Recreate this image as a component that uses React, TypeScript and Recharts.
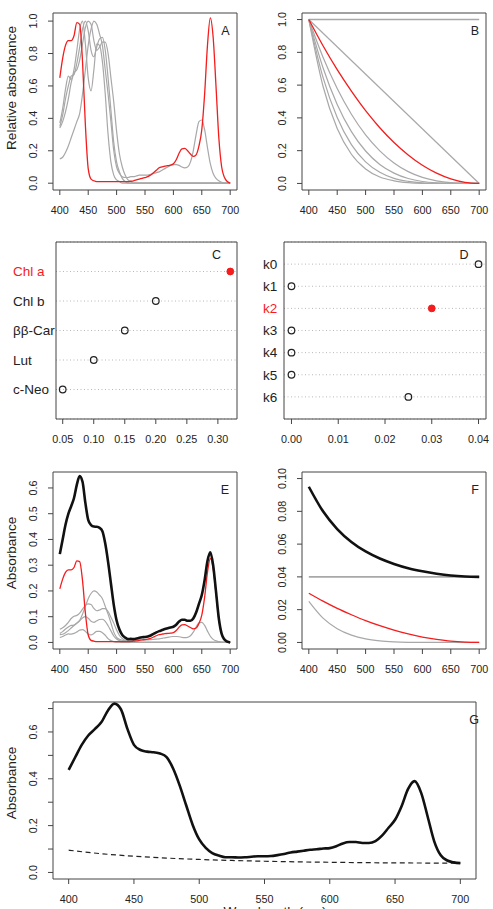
import React from 'react';
import {
  ComposedChart,
  Line,
  Scatter,
  XAxis,
  YAxis,
  ReferenceArea,
  CartesianGrid,
} from 'recharts';

const FONT = '"Liberation Sans", Arial, Helvetica, sans-serif';
const GREY = '#a8a8a8';
const RED = '#f41c1c';
const BLACK = '#111';
const INK = '#222';
const FRAME = '#444';

// wavelength grids (nm)
const wl5 = [
  400, 405, 410, 415, 420, 425, 430, 435, 440, 445, 450, 455, 460, 465, 470, 475, 480, 485, 490, 495,
  500, 505, 510, 515, 520, 525, 530, 535, 540, 545, 550, 555, 560, 565, 570, 575, 580, 585, 590, 595,
  600, 605, 610, 615, 620, 625, 630, 635, 640, 645, 650, 655, 660, 665, 670, 675, 680, 685, 690, 695, 700,
];
const wlCar = [
  400, 405, 410, 415, 420, 425, 430, 435, 440, 445, 450, 455, 460, 465, 470, 475, 480, 485, 490, 495,
  500, 505, 510, 515, 520, 525, 530, 700,
];
const wlPow = [400, 425, 450, 475, 500, 525, 550, 575, 600, 625, 650, 675, 700];
const wlEnds = [400, 700];
const wlTicks = [400, 450, 500, 550, 600, 650, 700];

// A: pigment spectra, relative units
const chlaRel = [
  0.65, 0.77, 0.85, 0.88, 0.88, 0.91, 0.99, 0.98, 0.75, 0.36,
  0.09, 0.025, 0.015, 0.01, 0.01, 0.01, 0.01, 0.01, 0.01, 0.01,
  0.01, 0.01, 0.01, 0.01, 0.01, 0.012, 0.015, 0.02, 0.025, 0.03,
  0.035, 0.04, 0.05, 0.065, 0.08, 0.095, 0.1, 0.105, 0.108, 0.112,
  0.12, 0.145, 0.185, 0.212, 0.215, 0.2, 0.18, 0.165, 0.175, 0.23,
  0.33, 0.55, 0.85, 1.02, 0.9, 0.6, 0.28, 0.1, 0.035, 0.01, 0,
];
const chlbRel = [
  0.15, 0.16, 0.19, 0.23, 0.28, 0.33, 0.38, 0.43, 0.55, 0.7,
  0.85, 0.95, 1.0, 0.98, 0.92, 0.85, 0.7, 0.55, 0.38, 0.2,
  0.1, 0.06, 0.04, 0.035, 0.035, 0.04, 0.04, 0.045, 0.05, 0.05,
  0.05, 0.05, 0.055, 0.06, 0.065, 0.07, 0.08, 0.09, 0.1, 0.11,
  0.115, 0.115, 0.11, 0.1, 0.095, 0.1, 0.13, 0.2, 0.3, 0.38,
  0.39, 0.33, 0.22, 0.12, 0.06, 0.03, 0.015, 0.005, 0, 0, 0,
];
const bcarRel = [
  0.34, 0.38, 0.44, 0.52, 0.62, 0.68, 0.7, 0.76, 0.86, 0.96,
  1.0, 0.98, 0.88, 0.82, 0.84, 0.87, 0.87, 0.8, 0.65, 0.5,
  0.32, 0.18, 0.1, 0.05, 0.02, 0.01, 0, 0,
];
const lutRel = [
  0.35, 0.42, 0.52, 0.6, 0.66, 0.67, 0.74, 0.84, 0.95, 1.0,
  0.94, 0.82, 0.78, 0.84, 0.89, 0.9, 0.82, 0.65, 0.45, 0.25,
  0.13, 0.07, 0.03, 0.01, 0, 0, 0, 0,
];
const neoRel = [
  0.37, 0.46, 0.58, 0.66, 0.64, 0.7, 0.82, 0.95, 1.0, 0.86,
  0.65, 0.57, 0.7, 0.86, 0.85, 0.75, 0.55, 0.3, 0.13, 0.05,
  0.02, 0.01, 0, 0, 0, 0, 0, 0,
];

// B: baseline shape terms k0..k6
const shapeK0 = [1, 1];
const shapeK1 = [1, 0];
const shapeK2 = [1, 0.84, 0.694, 0.563, 0.444, 0.34, 0.25, 0.174, 0.111, 0.063, 0.028, 0.007, 0];
const shapeK3 = [1, 0.77, 0.579, 0.422, 0.296, 0.199, 0.125, 0.072, 0.037, 0.016, 0.005, 0.001, 0];
const shapeK4 = [1, 0.706, 0.482, 0.316, 0.198, 0.116, 0.063, 0.03, 0.012, 0.004, 0.001, 0, 0];
const shapeK5 = [1, 0.647, 0.402, 0.237, 0.132, 0.068, 0.031, 0.013, 0.004, 0.001, 0, 0, 0];
const shapeK6 = [1, 0.593, 0.335, 0.178, 0.088, 0.039, 0.016, 0.005, 0.001, 0, 0, 0, 0];

// C: pigment concentrations
const pigments = ['Chl a', 'Chl b', 'ββ-Car', 'Lut', 'c-Neo'];
const pigmentConc = [0.32, 0.2, 0.15, 0.1, 0.05];
const concTicks = [0.05, 0.1, 0.15, 0.2, 0.25, 0.3];

// D: baseline coefficients
const coefNames = ['k0', 'k1', 'k2', 'k3', 'k4', 'k5', 'k6'];
const coefValues = [0.04, 0, 0.03, 0, 0, 0, 0.025];
const coefTicks = [0, 0.01, 0.02, 0.03, 0.04];

// E: weighted pigment absorbance and their sum
const chlaAbs = [
  0.208, 0.246, 0.272, 0.282, 0.282, 0.291, 0.317, 0.314, 0.24, 0.115,
  0.029, 0.008, 0.005, 0.003, 0.003, 0.003, 0.003, 0.003, 0.003, 0.003,
  0.003, 0.003, 0.003, 0.003, 0.003, 0.004, 0.005, 0.006, 0.008, 0.01,
  0.011, 0.013, 0.016, 0.021, 0.026, 0.03, 0.032, 0.034, 0.035, 0.036,
  0.038, 0.046, 0.059, 0.068, 0.069, 0.064, 0.058, 0.053, 0.056, 0.074,
  0.106, 0.176, 0.272, 0.326, 0.288, 0.192, 0.09, 0.032, 0.011, 0.003, 0,
];
const chlbAbs = [
  0.03, 0.032, 0.038, 0.046, 0.056, 0.066, 0.076, 0.086, 0.11, 0.14,
  0.17, 0.19, 0.2, 0.196, 0.184, 0.17, 0.14, 0.11, 0.076, 0.04,
  0.02, 0.012, 0.008, 0.007, 0.007, 0.008, 0.008, 0.009, 0.01, 0.01,
  0.01, 0.01, 0.011, 0.012, 0.013, 0.014, 0.016, 0.018, 0.02, 0.022,
  0.023, 0.023, 0.022, 0.02, 0.019, 0.02, 0.026, 0.04, 0.06, 0.076,
  0.078, 0.066, 0.044, 0.024, 0.012, 0.006, 0.003, 0.001, 0, 0, 0,
];
const bcarAbs = [
  0.051, 0.057, 0.066, 0.078, 0.093, 0.102, 0.105, 0.114, 0.129, 0.144,
  0.15, 0.147, 0.132, 0.123, 0.126, 0.131, 0.131, 0.12, 0.098, 0.075,
  0.048, 0.027, 0.015, 0.008, 0.003, 0.002, 0, 0,
];
const lutAbs = [
  0.035, 0.042, 0.052, 0.06, 0.066, 0.067, 0.074, 0.084, 0.095, 0.1,
  0.094, 0.082, 0.078, 0.084, 0.089, 0.09, 0.082, 0.065, 0.045, 0.025,
  0.013, 0.007, 0.003, 0.001, 0, 0, 0, 0,
];
const neoAbs = [
  0.019, 0.023, 0.029, 0.033, 0.032, 0.035, 0.041, 0.048, 0.05, 0.043,
  0.033, 0.029, 0.035, 0.043, 0.043, 0.038, 0.028, 0.015, 0.007, 0.003,
  0.001, 0.001, 0, 0, 0, 0, 0, 0,
];
const pigmentSum = [
  0.343, 0.4, 0.457, 0.499, 0.529, 0.561, 0.613, 0.646, 0.624, 0.542,
  0.476, 0.456, 0.45, 0.449, 0.445, 0.432, 0.384, 0.313, 0.229, 0.146,
  0.085, 0.05, 0.029, 0.019, 0.013, 0.014, 0.013, 0.015, 0.018, 0.02,
  0.021, 0.023, 0.027, 0.033, 0.039, 0.044, 0.048, 0.052, 0.055, 0.058,
  0.061, 0.069, 0.081, 0.088, 0.088, 0.084, 0.084, 0.093, 0.116, 0.15,
  0.184, 0.242, 0.316, 0.35, 0.3, 0.198, 0.093, 0.033, 0.011, 0.003, 0,
];

// F: baseline terms and total baseline
const baseK0 = [0.04, 0.04];
const baseK2 = [0.03, 0.0252, 0.0208, 0.0169, 0.0133, 0.0102, 0.0075, 0.0052, 0.0033, 0.0019, 0.0008, 0.0002, 0];
const baseK6 = [0.025, 0.0148, 0.0084, 0.0045, 0.0022, 0.001, 0.0004, 0.0001, 0, 0, 0, 0, 0];
const baseTotal = [0.095, 0.08, 0.0692, 0.0613, 0.0555, 0.0512, 0.0479, 0.0453, 0.0434, 0.0419, 0.0408, 0.0402, 0.04];

// G: modelled sample absorbance
const sampleAbs = [
  0.438, 0.492, 0.545, 0.585, 0.612, 0.641, 0.691, 0.721, 0.697, 0.613,
  0.545, 0.523, 0.516, 0.513, 0.508, 0.493, 0.444, 0.372, 0.287, 0.203,
  0.141, 0.105, 0.083, 0.072, 0.065, 0.065, 0.064, 0.065, 0.067, 0.069,
  0.069, 0.07, 0.074, 0.079, 0.085, 0.089, 0.093, 0.097, 0.099, 0.102,
  0.104, 0.112, 0.124, 0.13, 0.13, 0.126, 0.126, 0.134, 0.157, 0.191,
  0.225, 0.283, 0.357, 0.39, 0.34, 0.238, 0.133, 0.073, 0.051, 0.043, 0.04,
];

type Pt = { x: number; y: number };
const pts = (xs: number[], ys: number[]): Pt[] => xs.map((x, i) => ({ x, y: ys[i] }));

type Box = { x0: number; y0: number; x1: number; y1: number };
type LineSpec = { data: Pt[]; color: string; width: number; dash?: string };

const PAD = { l: 48, r: 6, t: 6, b: 32 };
const Y_AXIS_W = 40;
const X_AXIS_H = 26;
const TICK_FS = 10.8;

function chartFrame(box: Box) {
  const bw = box.x1 - box.x0;
  const bh = box.y1 - box.y0;
  return {
    bh,
    width: bw + PAD.l + PAD.r,
    height: bh + PAD.t + PAD.b,
    margin: { top: PAD.t, right: PAD.r, left: PAD.l - Y_AXIS_W, bottom: PAD.b - X_AXIS_H },
    style: { position: 'absolute' as const, left: box.x0 - PAD.l, top: box.y0 - PAD.t },
  };
}

const xTick = (baseline: number, fmt: (v: number) => string) => (p: any) => (
  <text x={p.x} y={baseline} textAnchor="middle" fontSize={TICK_FS} fill={INK} fontFamily={FONT}>
    {fmt(p.payload.value)}
  </text>
);

const yTick = (fmt: (v: number) => string, every = 1) => (p: any) => {
  if (p.index % every !== 0) return <g />;
  const x = PAD.l - 16;
  return (
    <text
      x={x}
      y={p.y}
      transform={`rotate(-90 ${x} ${p.y})`}
      textAnchor="middle"
      fontSize={TICK_FS}
      fill={INK}
      fontFamily={FONT}
    >
      {fmt(p.payload.value)}
    </text>
  );
};

type SpectrumProps = {
  box: Box;
  xDomain: [number, number];
  yDomain: [number, number];
  yTicks: number[];
  yDigits: number;
  yEvery?: number;
  lines: LineSpec[];
};

function SpectrumPanel({ box, xDomain, yDomain, yTicks, yDigits, yEvery = 1, lines }: SpectrumProps) {
  const f = chartFrame(box);
  return (
    <div style={f.style}>
      <ComposedChart width={f.width} height={f.height} margin={f.margin}>
        <XAxis
          type="number"
          dataKey="x"
          domain={xDomain}
          ticks={wlTicks}
          interval={0}
          allowDataOverflow
          axisLine={false}
          tickLine={{ stroke: FRAME }}
          tickSize={5}
          height={X_AXIS_H}
          tick={xTick(PAD.t + f.bh + 24, (v) => String(v))}
        />
        <YAxis
          type="number"
          dataKey="y"
          domain={yDomain}
          ticks={yTicks}
          interval={0}
          allowDataOverflow
          axisLine={false}
          tickLine={{ stroke: FRAME }}
          tickSize={5}
          width={Y_AXIS_W}
          tick={yTick((v) => v.toFixed(yDigits), yEvery)}
        />
        <ReferenceArea
          x1={xDomain[0]}
          x2={xDomain[1]}
          y1={yDomain[0]}
          y2={yDomain[1]}
          fill="none"
          stroke={FRAME}
          strokeWidth={1}
          ifOverflow="visible"
        />
        {lines.map((s, i) => (
          <Line
            key={i}
            data={s.data}
            dataKey="y"
            type="monotone"
            stroke={s.color}
            strokeWidth={s.width}
            strokeDasharray={s.dash}
            dot={false}
            activeDot={false}
            isAnimationActive={false}
          />
        ))}
      </ComposedChart>
    </div>
  );
}

type DotProps = {
  box: Box;
  names: string[];
  values: number[];
  highlight: number;
  xDomain: [number, number];
  xTicks: number[];
  labelLeft: number;
};

// Cleveland-style dot chart: one row per name, top row first
function DotPanel({ box, names, values, highlight, xDomain, xTicks, labelLeft }: DotProps) {
  const f = chartFrame(box);
  const n = names.length;
  const rows = values.map((v, i) => ({ x: v, y: n - i }));
  const plain = rows.filter((_, i) => i !== highlight);
  const marked = rows.filter((_, i) => i === highlight);
  const rowTicks = rows.map((r) => r.y).reverse();
  const labelX = labelLeft - (box.x0 - PAD.l);
  return (
    <div style={f.style}>
      <ComposedChart width={f.width} height={f.height} margin={f.margin}>
        <CartesianGrid vertical={false} stroke="#b8b8b8" strokeDasharray="1 2.5" />
        <XAxis
          type="number"
          dataKey="x"
          domain={xDomain}
          ticks={xTicks}
          interval={0}
          allowDataOverflow
          axisLine={false}
          tickLine={{ stroke: FRAME }}
          tickSize={5}
          height={X_AXIS_H}
          tick={xTick(PAD.t + f.bh + 24, (v) => v.toFixed(2))}
        />
        <YAxis
          type="number"
          dataKey="y"
          domain={[0, n + 1]}
          ticks={rowTicks}
          interval={0}
          allowDataOverflow
          axisLine={false}
          tickLine={false}
          width={Y_AXIS_W}
          tick={(p: any) => {
            const i = n - p.payload.value;
            return (
              <text
                x={labelX}
                y={p.y + 4.8}
                textAnchor="start"
                fontSize={13.5}
                fill={i === highlight ? RED : INK}
                fontFamily={FONT}
              >
                {names[i]}
              </text>
            );
          }}
        />
        <ReferenceArea
          x1={xDomain[0]}
          x2={xDomain[1]}
          y1={0}
          y2={n + 1}
          fill="none"
          stroke={FRAME}
          strokeWidth={1}
          ifOverflow="visible"
        />
        <Scatter
          data={plain}
          isAnimationActive={false}
          shape={(p: any) => <circle cx={p.cx} cy={p.cy} r={3.3} fill="none" stroke={INK} strokeWidth={1.2} />}
        />
        <Scatter
          data={marked}
          isAnimationActive={false}
          shape={(p: any) => <circle cx={p.cx} cy={p.cy} r={3.4} fill={RED} stroke={RED} strokeWidth={1} />}
        />
      </ComposedChart>
    </div>
  );
}

const boxA: Box = { x0: 53, y0: 13, x1: 237, y1: 190 };
const boxB: Box = { x0: 302, y0: 13, x1: 486, y1: 190 };
const boxC: Box = { x0: 56, y0: 242, x1: 237, y1: 419 };
const boxD: Box = { x0: 284, y0: 242, x1: 486, y1: 419 };
const boxE: Box = { x0: 53, y0: 472, x1: 237, y1: 649 };
const boxF: Box = { x0: 302, y0: 472, x1: 486, y1: 649 };
const boxG: Box = { x0: 53, y0: 702, x1: 476, y1: 879 };

const WL_DOMAIN: [number, number] = [388, 712];

export default function App() {
  const g = (d: Pt[], w = 1.2): LineSpec => ({ data: d, color: GREY, width: w });

  const panelA: LineSpec[] = [
    g(pts(wlCar, neoRel)),
    g(pts(wlCar, lutRel)),
    g(pts(wlCar, bcarRel)),
    g(pts(wl5, chlbRel)),
    { data: pts(wl5, chlaRel), color: RED, width: 1.3 },
  ];
  const panelB: LineSpec[] = [
    g(pts(wlEnds, shapeK0), 1.5),
    g(pts(wlEnds, shapeK1)),
    g(pts(wlPow, shapeK3)),
    g(pts(wlPow, shapeK4)),
    g(pts(wlPow, shapeK5)),
    g(pts(wlPow, shapeK6)),
    { data: pts(wlPow, shapeK2), color: RED, width: 1.3 },
  ];
  const panelE: LineSpec[] = [
    g(pts(wlCar, neoAbs)),
    g(pts(wlCar, lutAbs)),
    g(pts(wlCar, bcarAbs)),
    g(pts(wl5, chlbAbs)),
    { data: pts(wl5, chlaAbs), color: RED, width: 1.3 },
    { data: pts(wl5, pigmentSum), color: BLACK, width: 2.6 },
  ];
  const panelF: LineSpec[] = [
    g(pts(wlEnds, baseK0), 1.7),
    g(pts(wlPow, baseK6)),
    { data: pts(wlPow, baseK2), color: RED, width: 1.3 },
    { data: pts(wlPow, baseTotal), color: BLACK, width: 2.6 },
  ];
  const panelG: LineSpec[] = [
    { data: pts(wlPow, baseTotal), color: INK, width: 1.2, dash: '5 3.5' },
    { data: pts(wl5, sampleAbs), color: BLACK, width: 2.6 },
  ];

  const letter = { fontSize: 12.5, fill: INK, textAnchor: 'end' as const };
  const title = { fontSize: 13.6, fill: INK, textAnchor: 'middle' as const };

  return (
    <div
      style={{
        position: 'absolute',
        left: 0,
        top: 0,
        width: 493,
        height: 909,
        overflow: 'hidden',
        background: '#fff',
        fontFamily: FONT,
      }}
    >
      <SpectrumPanel
        box={boxA}
        xDomain={WL_DOMAIN}
        yDomain={[-0.042, 1.05]}
        yTicks={[0, 0.2, 0.4, 0.6, 0.8, 1.0]}
        yDigits={1}
        lines={panelA}
      />
      <SpectrumPanel
        box={boxB}
        xDomain={WL_DOMAIN}
        yDomain={[-0.04, 1.04]}
        yTicks={[0, 0.2, 0.4, 0.6, 0.8, 1.0]}
        yDigits={1}
        lines={panelB}
      />
      <DotPanel
        box={boxC}
        names={pigments}
        values={pigmentConc}
        highlight={0}
        xDomain={[0.0392, 0.3308]}
        xTicks={concTicks}
        labelLeft={13}
      />
      <DotPanel
        box={boxD}
        names={coefNames}
        values={coefValues}
        highlight={2}
        xDomain={[-0.0016, 0.0416]}
        xTicks={coefTicks}
        labelLeft={263}
      />
      <SpectrumPanel
        box={boxE}
        xDomain={WL_DOMAIN}
        yDomain={[-0.0255, 0.662]}
        yTicks={[0, 0.1, 0.2, 0.3, 0.4, 0.5, 0.6]}
        yDigits={1}
        lines={panelE}
      />
      <SpectrumPanel
        box={boxF}
        xDomain={WL_DOMAIN}
        yDomain={[-0.004, 0.104]}
        yTicks={[0, 0.02, 0.04, 0.06, 0.08, 0.1]}
        yDigits={2}
        lines={panelF}
      />
      <SpectrumPanel
        box={boxG}
        xDomain={WL_DOMAIN}
        yDomain={[-0.028, 0.728]}
        yTicks={[0, 0.1, 0.2, 0.3, 0.4, 0.5, 0.6, 0.7]}
        yDigits={1}
        yEvery={2}
        lines={panelG}
      />

      <svg
        width={493}
        height={909}
        style={{ position: 'absolute', left: 0, top: 0, pointerEvents: 'none' }}
        fontFamily={FONT}
      >
        <text x={229.5} y={34.5} {...letter}>A</text>
        <text x={479} y={35} {...letter}>B</text>
        <text x={221} y={259} {...letter}>C</text>
        <text x={468.5} y={259} {...letter}>D</text>
        <text x={229} y={494} {...letter}>E</text>
        <text x={479} y={494} {...letter}>F</text>
        <text x={479} y={724} {...letter}>G</text>

        <text x={16} y={88} transform="rotate(-90 16 88)" {...title}>Relative absorbance</text>
        <text x={15.5} y={553} transform="rotate(-90 15.5 553)" {...title}>Absorbance</text>
        <text x={15.5} y={783} transform="rotate(-90 15.5 783)" {...title}>Absorbance</text>
        <text x={275} y={915.5} {...title}>Wavelength (nm)</text>
      </svg>
    </div>
  );
}
